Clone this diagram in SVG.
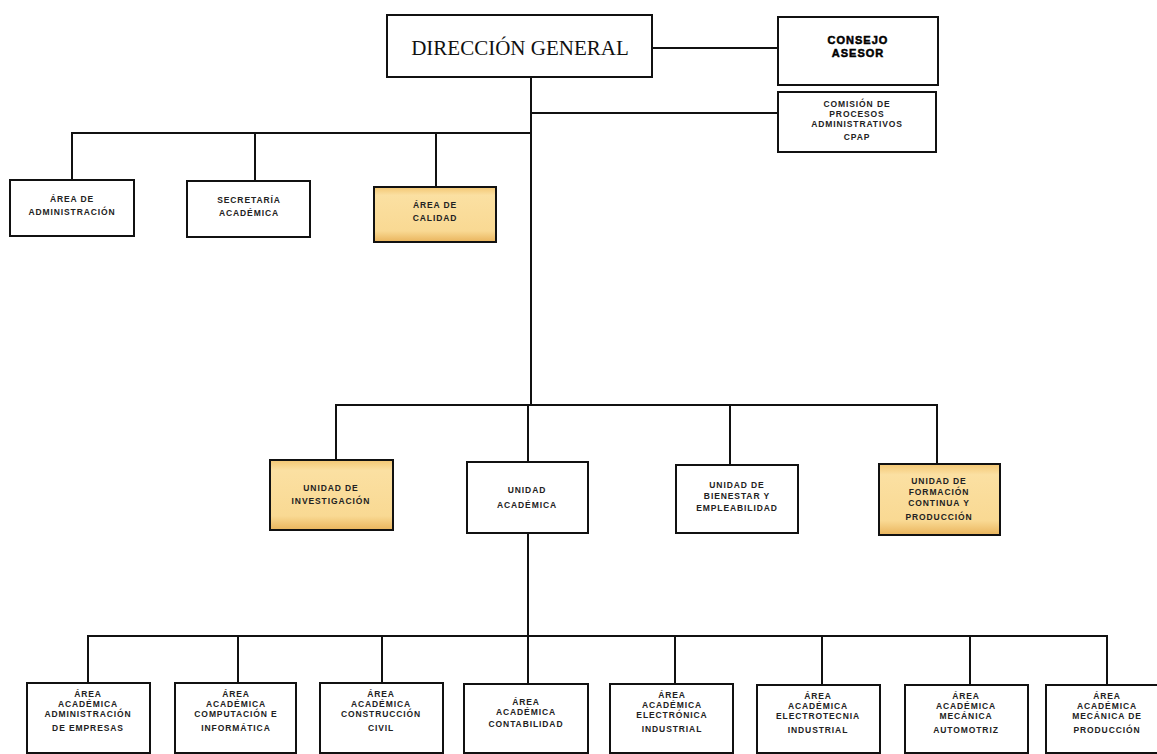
<svg xmlns="http://www.w3.org/2000/svg" width="1157" height="754" viewBox="0 0 1157 754">
<defs>
<linearGradient id="gold" x1="0" y1="0" x2="0" y2="1">
<stop offset="0" stop-color="#F3C672"/>
<stop offset="0.15" stop-color="#FBE0A2"/>
<stop offset="0.8" stop-color="#F9D993"/>
<stop offset="1" stop-color="#E9B45C"/>
</linearGradient>
<style>
.box{fill:#fff;stroke:#111;stroke-width:2}
.gbox{fill:url(#gold);stroke:#111;stroke-width:2}
.t{font-family:"Liberation Sans",Arial,sans-serif;font-size:8.5px;font-weight:bold;fill:#222;text-anchor:middle;letter-spacing:0.9px}
.big{font-family:"Liberation Serif","Times New Roman",serif;font-size:21px;fill:#111;text-anchor:middle}
.heavy{font-family:"Liberation Sans",Arial,sans-serif;font-size:11px;font-weight:bold;fill:#000;text-anchor:middle;letter-spacing:1px;stroke:#000;stroke-width:0.5}
.c{fill:none;stroke:#111;stroke-width:2}
</style>
</defs>
<rect width="1157" height="754" fill="#fff"/>
<g id="connectors">
<line class="c" x1="652" y1="48" x2="778" y2="48"/>
<line class="c" x1="531" y1="77" x2="531" y2="405"/>
<line class="c" x1="531" y1="113" x2="778" y2="113"/>
<polyline class="c" points="72,180 72,133 531,133"/>
<line class="c" x1="255" y1="133" x2="255" y2="181"/>
<line class="c" x1="436" y1="133" x2="436" y2="187"/>
<polyline class="c" points="336,460 336,405 937,405 937,464"/>
<line class="c" x1="528" y1="405" x2="528" y2="462"/>
<line class="c" x1="730" y1="405" x2="730" y2="465"/>
<line class="c" x1="528" y1="533" x2="528" y2="636"/>
<polyline class="c" points="88,683 88,636 1107,636 1107,684"/>
<line class="c" x1="238" y1="636" x2="238" y2="683"/>
<line class="c" x1="382" y1="636" x2="382" y2="683"/>
<line class="c" x1="528" y1="636" x2="528" y2="683"/>
<line class="c" x1="675" y1="636" x2="675" y2="683"/>
<line class="c" x1="822" y1="636" x2="822" y2="684"/>
<line class="c" x1="970" y1="636" x2="970" y2="684"/>
</g>
<g id="direccion">
<rect class="box" x="387" y="15" width="265" height="62"/>
<text class="big" x="520" y="55">DIRECCIÓN GENERAL</text>
</g>
<g id="consejo">
<rect class="box" x="778" y="17" width="160" height="68" stroke-width="2.5"/>
<text class="heavy" x="858" y="44">CONSEJO</text>
<text class="heavy" x="858" y="57">ASESOR</text>
</g>
<g id="comision">
<rect class="box" x="778" y="92" width="158" height="60"/>
<text class="t" x="857" y="107">COMISIÓN DE</text>
<text class="t" x="857" y="117">PROCESOS</text>
<text class="t" x="857" y="127">ADMINISTRATIVOS</text>
<text class="t" x="857" y="140">CPAP</text>
</g>
<g id="area-administracion">
<rect class="box" x="10" y="180" width="124" height="56"/>
<text class="t" x="72" y="202">ÁREA DE</text>
<text class="t" x="72" y="215">ADMINISTRACIÓN</text>
</g>
<g id="secretaria">
<rect class="box" x="187" y="181" width="123" height="56"/>
<text class="t" x="249" y="203">SECRETARÍA</text>
<text class="t" x="249" y="216">ACADÉMICA</text>
</g>
<g id="area-calidad">
<rect class="gbox" x="374" y="187" width="122" height="55"/>
<text class="t" x="435" y="208">ÁREA DE</text>
<text class="t" x="435" y="221">CALIDAD</text>
</g>
<g id="unidad-investigacion">
<rect class="gbox" x="270" y="460" width="123" height="70"/>
<text class="t" x="331" y="491">UNIDAD DE</text>
<text class="t" x="331" y="504">INVESTIGACIÓN</text>
</g>
<g id="unidad-academica">
<rect class="box" x="467" y="462" width="121" height="71"/>
<text class="t" x="527" y="493">UNIDAD</text>
<text class="t" x="527" y="508">ACADÉMICA</text>
</g>
<g id="unidad-bienestar">
<rect class="box" x="676" y="465" width="122" height="68"/>
<text class="t" x="737" y="488">UNIDAD DE</text>
<text class="t" x="737" y="499">BIENESTAR Y</text>
<text class="t" x="737" y="511">EMPLEABILIDAD</text>
</g>
<g id="unidad-formacion">
<rect class="gbox" x="879" y="464" width="121" height="71"/>
<text class="t" x="939" y="484">UNIDAD DE</text>
<text class="t" x="939" y="495">FORMACIÓN</text>
<text class="t" x="939" y="506">CONTINUA Y</text>
<text class="t" x="939" y="520">PRODUCCIÓN</text>
</g>
<g id="aa-administracion">
<rect class="box" x="27" y="683" width="123" height="70"/>
<text class="t" x="88" y="697">ÁREA</text>
<text class="t" x="88" y="707">ACADÉMICA</text>
<text class="t" x="88" y="717">ADMINISTRACIÓN</text>
<text class="t" x="88" y="731">DE EMPRESAS</text>
</g>
<g id="aa-computacion">
<rect class="box" x="175" y="683" width="121" height="70"/>
<text class="t" x="236" y="697">ÁREA</text>
<text class="t" x="236" y="707">ACADÉMICA</text>
<text class="t" x="236" y="717">COMPUTACIÓN E</text>
<text class="t" x="236" y="731">INFORMÁTICA</text>
</g>
<g id="aa-construccion">
<rect class="box" x="320" y="683" width="123" height="70"/>
<text class="t" x="381" y="697">ÁREA</text>
<text class="t" x="381" y="707">ACADÉMICA</text>
<text class="t" x="381" y="717">CONSTRUCCIÓN</text>
<text class="t" x="381" y="731">CIVIL</text>
</g>
<g id="aa-contabilidad">
<rect class="box" x="464" y="684" width="124" height="69"/>
<text class="t" x="526" y="705">ÁREA</text>
<text class="t" x="526" y="715">ACADÉMICA</text>
<text class="t" x="526" y="727">CONTABILIDAD</text>
</g>
<g id="aa-electronica">
<rect class="box" x="610" y="684" width="123" height="69"/>
<text class="t" x="672" y="698">ÁREA</text>
<text class="t" x="672" y="708">ACADÉMICA</text>
<text class="t" x="672" y="718">ELECTRÓNICA</text>
<text class="t" x="672" y="732">INDUSTRIAL</text>
</g>
<g id="aa-electrotecnia">
<rect class="box" x="757" y="685" width="123" height="68"/>
<text class="t" x="818" y="699">ÁREA</text>
<text class="t" x="818" y="709">ACADÉMICA</text>
<text class="t" x="818" y="719">ELECTROTECNIA</text>
<text class="t" x="818" y="733">INDUSTRIAL</text>
</g>
<g id="aa-automotriz">
<rect class="box" x="905" y="685" width="123" height="68"/>
<text class="t" x="966" y="699">ÁREA</text>
<text class="t" x="966" y="709">ACADÉMICA</text>
<text class="t" x="966" y="719">MECÁNICA</text>
<text class="t" x="966" y="733">AUTOMOTRIZ</text>
</g>
<g id="aa-produccion">
<rect class="box" x="1046" y="685" width="125" height="68"/>
<text class="t" x="1107" y="699">ÁREA</text>
<text class="t" x="1107" y="709">ACADÉMICA</text>
<text class="t" x="1107" y="719">MECÁNICA DE</text>
<text class="t" x="1107" y="733">PRODUCCIÓN</text>
</g>
</svg>
